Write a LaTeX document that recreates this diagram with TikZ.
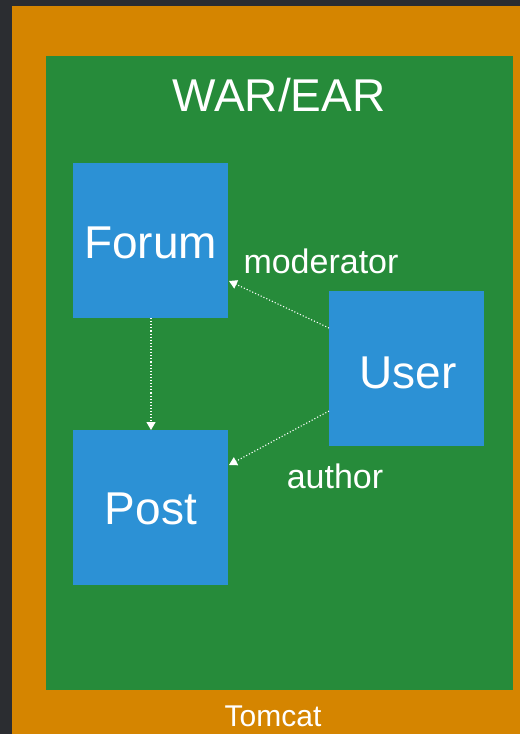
\documentclass[tikz,border=0pt]{standalone}
\usepackage{fontspec}
\setmainfont{Liberation Sans}
\usetikzlibrary{arrows.meta}
\definecolor{bgdark}{HTML}{2B2D31}
\definecolor{tomcat}{HTML}{D58500}
\definecolor{war}{HTML}{268B3A}
\definecolor{ent}{HTML}{2C91D5}
\tikzset{
  ent/.style={fill=ent, draw=none, minimum width=155pt, minimum height=155pt, inner sep=0pt},
  big/.style={text=white, font=\fontsize{46}{50}\selectfont},
  lbl/.style={text=white, font=\fontsize{34}{38}\selectfont},
  rel/.style={white, dotted, line width=1.1pt, -{Triangle[width=9pt,length=8pt]}}
}
\begin{document}
\begin{tikzpicture}[x=1pt,y=-1pt]
\useasboundingbox (0,0) rectangle (520,734);
\fill[bgdark] (0,0) rectangle (520,734);
\fill[tomcat] (12,6) rectangle (520,734);
\fill[war] (46,56) rectangle (513,690);
\node[big] (title) at (279,95) {WAR/EAR};
\node[text=white, font=\fontsize{30}{34}\selectfont] (tomcat) at (273,716) {Tomcat};
\node[ent] (forum) at (150.5,240.5) {};
\node[big] (forumtxt) at (150.5,243) {Forum};
\node[ent] (post) at (150.5,507.5) {};
\node[big] (posttxt) at (151,509) {Post};
\node[ent] (user) at (406.5,368.5) {};
\node[big] (usertxt) at (408,373) {User};
\coordinate (fs) at (151,318);
\coordinate (pt) at (151,430);
\coordinate (u1) at (329,328);
\coordinate (f1) at (229,281);
\coordinate (u2) at (329,411);
\coordinate (p1) at (229,465);
\draw[rel] (fs) -- (pt);
\draw[rel] (u1) -- (f1);
\draw[rel] (u2) -- (p1);
\node[lbl] (mod) at (321,261) {moderator};
\node[lbl] (auth) at (335,476) {author};
\end{tikzpicture}
\end{document}
